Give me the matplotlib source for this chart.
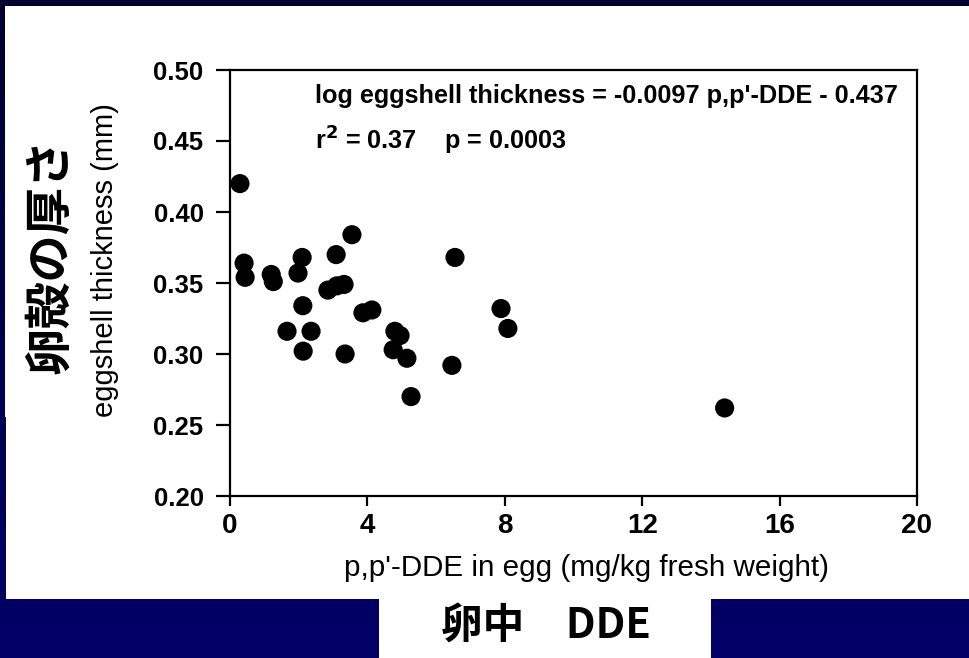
import matplotlib
matplotlib.use("Agg")
import matplotlib.pyplot as plt
import numpy as np
from matplotlib.patches import Rectangle
from matplotlib.colors import LinearSegmentedColormap

# ---- data ----
dde = [0.29, 0.41, 0.44, 1.20, 1.26, 2.10, 1.98, 2.12, 1.66, 2.36, 2.13,
       3.09, 3.55, 2.85, 3.11, 3.32, 3.35, 3.87, 4.13, 4.80, 4.95, 4.75,
       5.15, 5.27, 6.55, 6.46, 7.89, 8.09, 14.40]
thickness = [0.420, 0.364, 0.354, 0.356, 0.351, 0.368, 0.357, 0.334, 0.316, 0.316, 0.302,
             0.370, 0.384, 0.345, 0.348, 0.349, 0.300, 0.329, 0.331, 0.316, 0.313, 0.303,
             0.297, 0.270, 0.368, 0.292, 0.332, 0.318, 0.262]
xticks = [0, 4, 8, 12, 16, 20]
yticks = [0.20, 0.25, 0.30, 0.35, 0.40, 0.45, 0.50]

W, H = 970, 658
fig = plt.figure(figsize=(W / 100, H / 100), dpi=100)

# background: navy gradient + white panels
bg = fig.add_axes([0, 0, 1, 1], zorder=-10)
grad = np.linspace(0, 1, 256).reshape(-1, 1)
cmap = LinearSegmentedColormap.from_list("navy", ["#000030", "#000068"])
bg.imshow(grad, aspect="auto", cmap=cmap, extent=[0, 1, 0, 1], origin="upper")
bg.set_xlim(0, 1)
bg.set_ylim(0, 1)
bg.axis("off")

def px_rect(x0, y0, x1, y1):
    return Rectangle((x0 / W, 1 - y1 / H), (x1 - x0) / W, (y1 - y0) / H,
                     facecolor="white", edgecolor="none", transform=bg.transAxes)

bg.add_patch(px_rect(5, 6, W, 417))
bg.add_patch(px_rect(6, 410, W, 599))
bg.add_patch(px_rect(379, 597, 711, H))

# main axes
ax = fig.add_axes([230 / W, 1 - 496 / H, (917 - 230) / W, (496 - 70) / H])
ax.scatter(dde, thickness, s=190, color="black", edgecolors="none", zorder=3, clip_on=False)
ax.set_xlim(0, 20)
ax.set_ylim(0.20, 0.50)
ax.set_xticks(xticks)
ax.set_xticklabels([str(t) for t in xticks])
ax.set_yticks(yticks)
ax.set_yticklabels([f"{t:.2f}" for t in yticks])
for s in ax.spines.values():
    s.set_linewidth(1.6)
ax.tick_params(axis="y", direction="out", length=10, width=1.6, labelsize=18.5, pad=9)
ax.tick_params(axis="x", direction="out", length=7, width=1.6, labelsize=20, pad=5)
for lab in ax.get_yticklabels():
    lab.set_fontweight("bold")
    lab.set_fontfamily("Liberation Sans")
for lab in ax.get_xticklabels():
    lab.set_fontweight("bold")
    lab.set_fontfamily(["Liberation Sans Narrow", "Liberation Sans"])

ax.set_xlabel("p,p'-DDE in egg (mg/kg fresh weight)", fontsize=21.3,
              family="Liberation Sans", va="center")
ax.xaxis.set_label_coords((587 - 230) / 687, (496 - 568) / 426)
ax.set_ylabel("eggshell thickness (mm)", fontsize=21, family="Liberation Sans", va="center")
ax.yaxis.set_label_coords((105 - 230) / 687, (496 - 260) / 426)

ax.text(0.124, 0.939, "log eggshell thickness = -0.0097 p,p'-DDE - 0.437",
        transform=ax.transAxes, fontsize=18.2, family="Liberation Sans",
        fontweight="bold", va="center", ha="left")
ax.text(0.124, 0.833, r"r$^{\mathbf{2}}$ = 0.37    p = 0.0003",
        transform=ax.transAxes, fontsize=18.2, family="Liberation Sans",
        fontweight="bold", va="center", ha="left")

# Japanese labels
fig.text(50 / W, 1 - 256 / H, "卵殻の厚さ", rotation=90, fontsize=34,
         family=["Noto Sans CJK JP", "DejaVu Sans"], fontweight="bold",
         ha="center", va="center", color="black")
fig.text(546 / W, 1 - 626 / H, "卵中　DDE", fontsize=30,
         family=["Noto Sans CJK JP", "DejaVu Sans"], fontweight="bold",
         ha="center", va="center", color="black")

fig.savefig("out.png", dpi=100)
